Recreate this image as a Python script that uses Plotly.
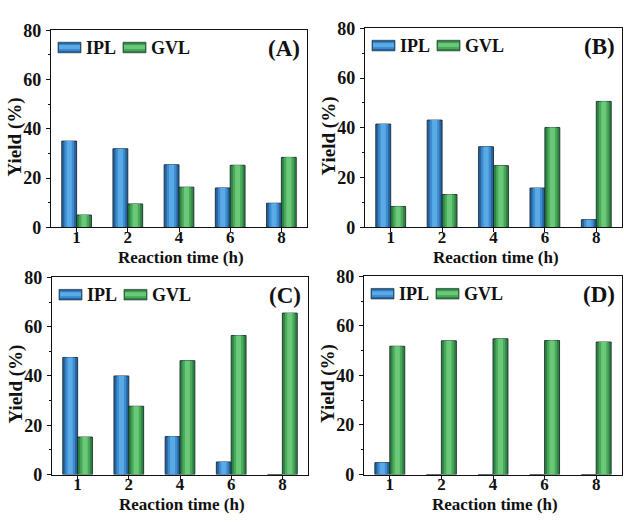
import plotly.graph_objects as go

# Reaction times (h) and yields (%) for the four catalytic runs
times = ["1", "2", "4", "6", "8"]
ipl_a = [35.0, 31.9, 25.4, 16.0, 9.8]
gvl_a = [5.0, 9.5, 16.3, 25.2, 28.4]
ipl_b = [41.5, 43.1, 32.4, 15.8, 3.1]
gvl_b = [8.4, 13.2, 24.8, 40.1, 50.6]
ipl_c = [47.5, 40.0, 15.4, 5.1, 0.0]
gvl_c = [15.2, 27.7, 46.2, 56.4, 65.5]
ipl_d = [4.8, 0.0, 0.0, 0.0, 0.0]
gvl_d = [51.8, 54.0, 54.8, 54.1, 53.5]
panel_tags = ["(A)", "(B)", "(C)", "(D)"]
y_ticks = [0, 20, 40, 60, 80]
x_title = "Reaction time (h)"
y_title = "Yield (%)"

W, H = 624, 523
FONT = "Liberation Serif"
INK = "#111"

# plot-area boxes in pixels: left, right, top, bottom
boxes = [
    (51, 307, 21, 226),
    (365, 622, 19, 226),
    (52, 308, 278, 483),
    (364, 622, 277, 483),
]

# colour ramps (edge -> centre) to give the bars a cylindrical shading
blue_ramp = ["#25649f", "#3d8bd0", "#5aaae6"]
green_ramp = ["#2e8540", "#48a95a", "#6cc879"]
edge_line = "#1c2833"

BAR_W = 0.29


def px(x):
    return x / W


def py(y):
    return 1 - y / H


def bold(size):
    return dict(family=FONT, size=size, color=INK, weight="bold")


fig = go.Figure()
series = [(ipl_a, gvl_a), (ipl_b, gvl_b), (ipl_c, gvl_c), (ipl_d, gvl_d)]

shapes = []
annotations = []

for i, ((ipl, gvl), box) in enumerate(zip(series, boxes)):
    n = i + 1
    xa = "x" if n == 1 else f"x{n}"
    ya = "y" if n == 1 else f"y{n}"
    for vals, ramp, off in ((ipl, blue_ramp, -BAR_W), (gvl, green_ramp, 0.0)):
        # outer body with outline, then two lighter inner bands
        layers = [(0.0, BAR_W, ramp[0], 0.9), (0.05, BAR_W - 0.10, ramp[1], 0), (0.095, BAR_W - 0.19, ramp[2], 0)]
        for inset, w, col, lw in layers:
            fig.add_trace(go.Bar(
                x=times, y=vals, xaxis=xa, yaxis=ya,
                width=w, offset=off + inset,
                marker=dict(color=col, line=dict(color=edge_line, width=lw)),
                showlegend=False, hoverinfo="skip",
            ))

    l, r, t, b = box
    axis_common = dict(
        showline=True, linecolor=INK, linewidth=1.2, mirror=True,
        ticks="outside", ticklen=4, tickwidth=1.2, tickcolor=INK,
        showgrid=False, zeroline=False,
    )
    fig.update_layout(**{
        ("xaxis" if n == 1 else f"xaxis{n}"): dict(
            axis_common, domain=[px(l), px(r)], anchor=ya,
            type="category", range=[-0.5, 4.5], tickfont=bold(17),
            ticklabelstandoff=-10,
        ),
        ("yaxis" if n == 1 else f"yaxis{n}"): dict(
            axis_common, domain=[py(b), py(t)], anchor=xa,
            range=[0, 80], tickvals=y_ticks, ticklabelstandoff=1, tickfont=bold(18),
            minor=dict(dtick=10, ticks="outside", ticklen=2, tickcolor=INK),
        ),
    })

    # axis titles
    annotations.append(dict(text=x_title, xref="paper", yref="paper",
                            x=px((l + r) / 2 + 2), y=py(b + 31), xanchor="center", yanchor="middle",
                            showarrow=False, font=bold(17)))
    annotations.append(dict(text=y_title, xref="paper", yref="paper",
                            x=px(l - 36), y=py((t + b) / 2 + 9), xanchor="center", yanchor="middle",
                            textangle=-90, showarrow=False, font=bold(19)))

    # legend keys drawn inside the plot area
    ky = t + 18
    keys = [(l + 7, "IPL", blue_ramp), (l + 72, "GVL", green_ramp)]
    for kx, label, ramp in keys:
        kw, kh = 23, 11
        shapes.append(dict(type="rect", xref="paper", yref="paper",
                           x0=px(kx), x1=px(kx + kw), y0=py(ky + kh / 2), y1=py(ky - kh / 2),
                           fillcolor=ramp[0], line=dict(color=edge_line, width=0.6)))
        shapes.append(dict(type="rect", xref="paper", yref="paper",
                           x0=px(kx + 1), x1=px(kx + kw - 1), y0=py(ky + kh / 2 - 2), y1=py(ky - kh / 2 + 2),
                           fillcolor=ramp[1], line=dict(width=0)))
        shapes.append(dict(type="rect", xref="paper", yref="paper",
                           x0=px(kx + 1), x1=px(kx + kw - 1), y0=py(ky + 1.5), y1=py(ky - 2.5),
                           fillcolor=ramp[2], line=dict(width=0)))
        annotations.append(dict(text=label, xref="paper", yref="paper",
                                x=px(kx + kw + 3), y=py(ky), xanchor="left", yanchor="middle",
                                showarrow=False, font=bold(18)))
    annotations.append(dict(text=panel_tags[i], xref="paper", yref="paper",
                            x=px(r - 5), y=py(t + 19), xanchor="right", yanchor="middle",
                            showarrow=False, font=bold(23)))

fig.update_layout(
    width=W, height=H,
    margin=dict(l=0, r=0, t=0, b=0),
    paper_bgcolor="white", plot_bgcolor="white",
    barmode="overlay",
    showlegend=False,
    shapes=shapes, annotations=annotations,
)

fig.write_html("out.html")
